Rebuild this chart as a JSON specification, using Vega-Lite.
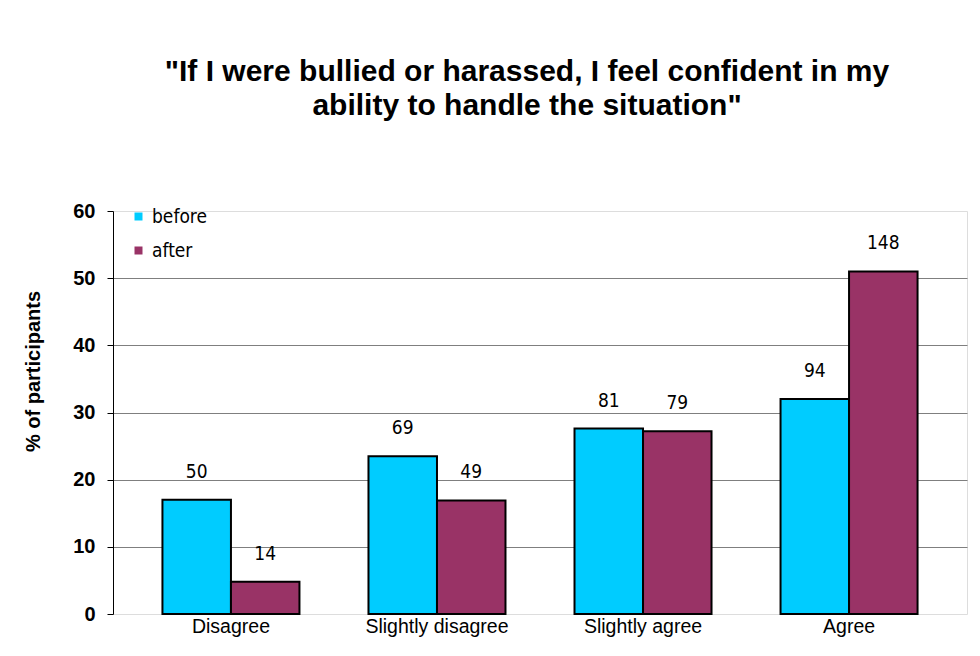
{
  "$schema": "https://vega.github.io/schema/vega-lite/v6.json",
  "autosize": "none",
  "width": 854,
  "height": 403,
  "padding": {"left": 113, "top": 211, "right": 13, "bottom": 42},
  "background": "white",
  "title": {
    "text": ["\"If I were bullied or harassed, I feel confident in my", "ability to handle the situation\""],
    "fontSize": 30,
    "fontWeight": "bold",
    "font": "Liberation Sans",
    "color": "black",
    "lineHeight": 34,
    "offset": 80,
    "dx": -13,
    "anchor": "middle"
  },
  "data": {
    "values": [
      {"response": "Disagree", "group": "before", "pct": 17.0, "count": 50},
      {"response": "Disagree", "group": "after", "pct": 4.8, "count": 14},
      {"response": "Slightly disagree", "group": "before", "pct": 23.5, "count": 69},
      {"response": "Slightly disagree", "group": "after", "pct": 16.9, "count": 49},
      {"response": "Slightly agree", "group": "before", "pct": 27.6, "count": 81},
      {"response": "Slightly agree", "group": "after", "pct": 27.2, "count": 79},
      {"response": "Agree", "group": "before", "pct": 32.0, "count": 94},
      {"response": "Agree", "group": "after", "pct": 51.0, "count": 148}
    ]
  },
  "encoding": {
    "x": {
      "field": "response",
      "type": "nominal",
      "sort": ["Disagree", "Slightly disagree", "Slightly agree", "Agree"],
      "scale": {"paddingInner": 0.335, "paddingOuter": 0.24},
      "axis": {
        "title": null,
        "domain": false,
        "ticks": false,
        "labelAngle": 0,
        "labelFont": "Liberation Sans",
        "labelFontSize": 19.5,
        "labelColor": "black",
        "labelPadding": 3
      }
    },
    "xOffset": {"field": "group", "type": "nominal", "sort": ["before", "after"], "scale": {"paddingInner": 0, "paddingOuter": 0}},
    "y": {
      "field": "pct",
      "type": "quantitative",
      "scale": {"domain": [0, 60], "nice": false},
      "axis": {
        "title": "% of participants",
        "titleFont": "Liberation Sans",
        "titleFontSize": 20,
        "titleFontWeight": "bold",
        "titleColor": "black",
        "titleX": -80,
        "titleY": 160,
        "titleAlign": "center",
        "titleBaseline": "middle",
        "titleAngle": -90,
        "values": [0, 10, 20, 30, 40, 50, 60],
        "domainColor": "black",
        "domainWidth": 1,
        "tickColor": "black",
        "tickSize": 6,
        "labelFont": "Liberation Sans",
        "labelFontSize": 20,
        "labelFontWeight": "bold",
        "labelColor": "black",
        "labelPadding": 12,
        "grid": true,
        "gridColor": {"condition": {"test": "datum.value == 60 || datum.value == 0", "value": "transparent"}, "value": "#7f7f7f"},
        "gridWidth": 1
      }
    }
  },
  "layer": [
    {
      "mark": {"type": "bar", "stroke": "black", "strokeWidth": 2},
      "encoding": {
        "color": {
          "field": "group",
          "type": "nominal",
          "sort": ["before", "after"],
          "scale": {"domain": ["before", "after"], "range": ["#00CCFF", "#993366"]},
          "legend": {
            "title": null,
            "orient": "none",
            "legendX": 16,
            "legendY": -4,
            "symbolType": "square",
            "symbolSize": 64,
            "symbolStrokeWidth": 0,
            "labelFont": "DejaVu Sans Condensed, Liberation Sans, sans-serif",
            "labelFontSize": 19,
            "labelColor": "black",
            "labelOffset": 4,
            "rowPadding": 14
          }
        }
      }
    },
    {
      "mark": {"type": "text", "baseline": "bottom", "dy": -18, "font": "DejaVu Sans Condensed, Liberation Sans, sans-serif", "fontSize": 19, "color": "black"},
      "encoding": {"text": {"field": "count", "type": "quantitative"}}
    }
  ]
}
